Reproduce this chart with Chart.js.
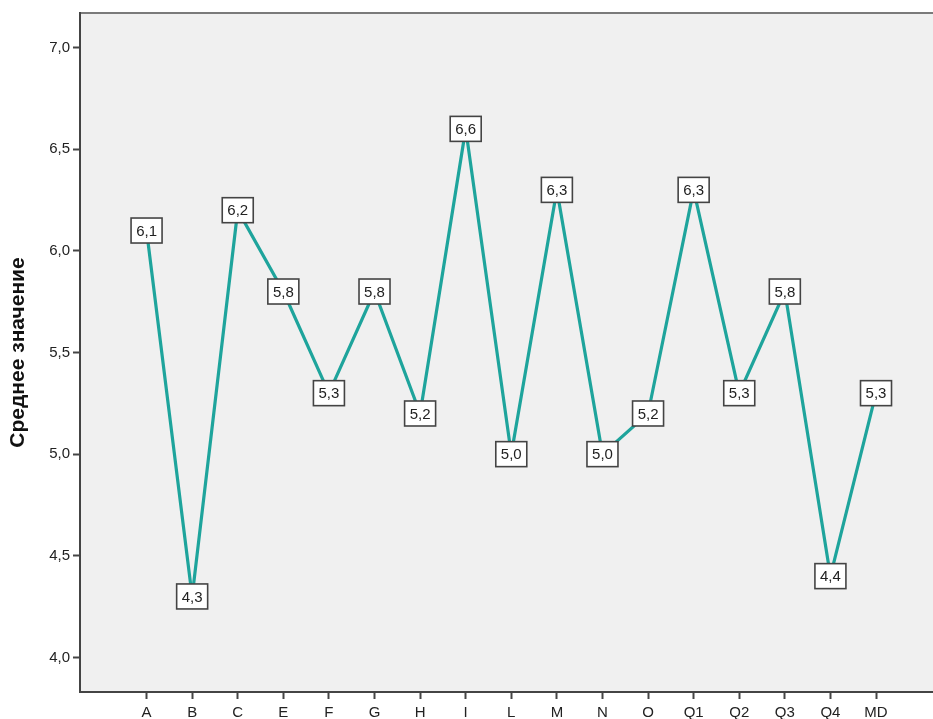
<!DOCTYPE html>
<html>
<head>
<meta charset="utf-8">
<script src="https://cdn.jsdelivr.net/npm/chart.js@4.4.1/dist/chart.umd.min.js"></script>
<style>
html,body{margin:0;padding:0;background:#fff;}
#wrap{width:933px;height:719px;}
</style>
</head>
<body>
<div id="wrap"><canvas id="c" width="933" height="719"></canvas></div>
<script>
const categories = ['A','B','C','E','F','G','H','I','L','M','N','O','Q1','Q2','Q3','Q4','MD'];
const meanValues = [6.1,4.3,6.2,5.8,5.3,5.8,5.2,6.6,5.0,6.3,5.0,5.2,6.3,5.3,5.8,4.4,5.3];
const yTickValues = [4.0,4.5,5.0,5.5,6.0,6.5,7.0];
const yTitle = 'Среднее значение';

const fmt = v => v.toFixed(1).replace('.', ',');
const FONT = '"Liberation Sans", Arial, sans-serif';

const bgPlugin = {
  id: 'bg',
  beforeDraw(chart) {
    const {ctx, chartArea: a} = chart;
    ctx.save();
    ctx.fillStyle = '#f0f0f0';
    ctx.fillRect(a.left, a.top, a.right - a.left, a.bottom - a.top);
    ctx.strokeStyle = '#7a7a7a';
    ctx.lineWidth = 2;
    ctx.beginPath();
    ctx.moveTo(a.left, a.top);
    ctx.lineTo(a.right, a.top);
    ctx.stroke();
    ctx.restore();
  }
};

const labelPlugin = {
  id: 'boxLabels',
  afterDatasetsDraw(chart) {
    const {ctx} = chart;
    const meta = chart.getDatasetMeta(0);
    const data = chart.data.datasets[0].data;
    ctx.save();
    ctx.font = '15px ' + FONT;
    ctx.textAlign = 'center';
    ctx.textBaseline = 'middle';
    meta.data.forEach((pt, i) => {
      const txt = fmt(data[i].y);
      const w = 31, h = 25;
      const x = pt.x, y = pt.y;
      ctx.fillStyle = '#ffffff';
      ctx.fillRect(x - w/2, y - h/2, w, h);
      ctx.strokeStyle = '#444';
      ctx.lineWidth = 1.6;
      ctx.strokeRect(x - w/2, y - h/2, w, h);
      ctx.fillStyle = '#222';
      ctx.fillText(txt, x, y + 1);
    });
    ctx.restore();
  }
};

new Chart(document.getElementById('c'), {
  type: 'line',
  data: {
    datasets: [{
      data: meanValues.map((v, i) => ({x: i, y: v})),
      borderColor: '#1ea49c',
      borderWidth: 3.2,
      pointRadius: 0,
      tension: 0,
      fill: false
    }]
  },
  options: {
    responsive: false,
    animation: false,
    layout: {padding: {top: 13, right: 0, left: 0, bottom: 0}},
    plugins: {legend: {display: false}, tooltip: {enabled: false}},
    scales: {
      x: {
        type: 'linear',
        min: -1.46,
        max: 17.25,
        afterBuildTicks(scale) { scale.ticks = categories.map((c, i) => ({value: i})); },
        afterFit(scale) { scale.height = 27; },
        ticks: {
          autoSkip: false,
          maxRotation: 0,
          padding: 5,
          color: '#222',
          font: {family: FONT, size: 15},
          callback: (v) => categories[v]
        },
        grid: {drawOnChartArea: false, drawTicks: true, tickLength: 7, tickColor: '#444', tickWidth: 2},
        border: {display: true, color: '#444', width: 2}
      },
      y: {
        type: 'linear',
        min: 3.83,
        max: 7.17,
        afterBuildTicks(scale) { scale.ticks = yTickValues.map(v => ({value: v})); },
        afterFit(scale) { scale.width = 80; },
        ticks: {
          padding: 3,
          color: '#222',
          font: {family: FONT, size: 15},
          callback: (v) => fmt(v)
        },
        grid: {drawOnChartArea: false, drawTicks: true, tickLength: 7, tickColor: '#444', tickWidth: 2},
        border: {display: true, color: '#444', width: 2},
        title: {
          display: true,
          text: yTitle,
          color: '#111',
          font: {family: FONT, size: 21, weight: 'bold'},
          padding: {top: 6, bottom: 0}
        }
      }
    }
  },
  plugins: [bgPlugin, labelPlugin]
});
</script>
</body>
</html>
